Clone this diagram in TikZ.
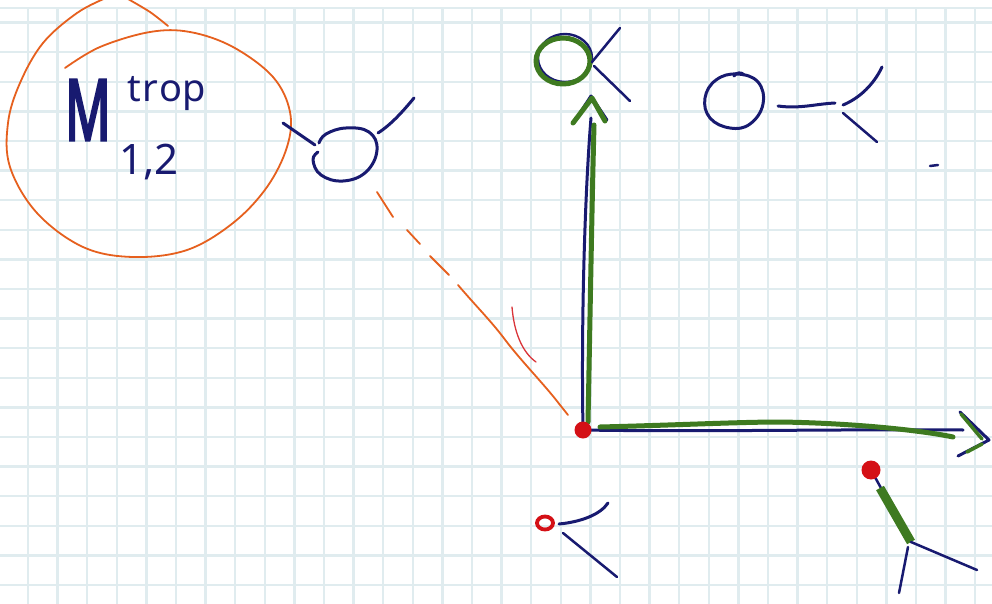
\documentclass[tikz,border=0pt]{standalone}
\usepackage{fontspec}
\setmainfont{Noto Sans}
\newfontfamily\heavyhand[FakeBold=4]{Noto Sans}
\usetikzlibrary{shapes.geometric}
\definecolor{ink}{RGB}{24,26,112}
\definecolor{leaf}{RGB}{62,122,32}
\definecolor{dotred}{RGB}{212,16,22}
\definecolor{penorange}{RGB}{230,96,30}
\definecolor{gridcol}{RGB}{224,236,239}
\tikzset{
  gridline/.style={draw=gridcol, line width=2.3pt},
  inkline/.style={draw=ink, line width=3pt, line cap=round, line join=round},
  leafline/.style={draw=leaf, line width=5pt, line cap=round, line join=round},
  orangeline/.style={draw=penorange, line width=1.8pt, line cap=round, line join=round},
  reddot/.style={circle, fill=dotred, inner sep=0pt, minimum size=17pt},
  handtext/.style={text=ink, inner sep=0pt}
}
\begin{document}
\begin{tikzpicture}[x=1pt,y=-1pt]
\useasboundingbox (0,0) rectangle (992,604);
\fill[white] (0,0) rectangle (992,604);
\begin{scope}
\clip (0,0) rectangle (992,604);
% grid paper
\foreach \i in {0,...,32} \draw[gridline] ({28+29.6*\i},8) -- ({28+29.6*\i},606);
\foreach \j in {0,...,19} \draw[gridline] (0,{22.6+29.6*\j}) -- (992,{22.6+29.6*\j});
\draw[gridline] (0,8) -- (992,8);

% orange loop around the label
\draw[orangeline] plot[smooth, tension=0.6] coordinates {(65,68) (100,47) (150,32) (190,32) (233,47) (273,77) (290,112) (287,147) (267,187) (233,223) (187,250) (133,257) (83,247) (37,213) (10,167) (8,123) (20,83) (43,43) (77,13) (106,-2)};
\draw[orangeline] plot[smooth] coordinates {(128,-1) (150,12) (168,26)};

% label
\node[handtext, font=\heavyhand\fontsize{84}{84}\selectfont] (M) at (88,110) {\scalebox{0.6}[1]{M}};
\node[handtext, font=\fontsize{38}{38}\selectfont] (trop) at (167,94) {t\kern1pt r\kern1pt o\kern1pt p};
\node[handtext, font=\fontsize{42}{42}\selectfont] (idx) at (149,162) {1,2};

% named points
\coordinate (O) at (583,430);
\coordinate (Ytop) at (591,118);
\coordinate (Xend) at (963,430);
\coordinate (A1) at (283,123);
\coordinate (A2) at (315,145);
\coordinate (B1) at (378,133);
\coordinate (B2) at (414,98);
\coordinate (D1) at (377,192);

% blue vertex near label
\draw[inkline] plot[smooth, tension=0.7] coordinates {(319,143) (326,134) (346,128) (369,132) (377,150) (366,172) (343,181) (321,175) (313,160) (318,152)};
\draw[inkline] (A1) -- (A2);
\draw[inkline] (B1) .. controls (392,124) and (404,110) .. (B2);

% orange dashed line to origin
\draw[orangeline] (D1) -- (393,217);
\draw[orangeline] (407,230) -- (420,244);
\draw[orangeline] (430,256) -- (449,275);
\draw[orangeline] (458,285) .. controls (475,305) and (490,320) .. (503,337) .. controls (520,360) and (545,385) .. (560,405) -- (568,415);
% thin red arc
\draw[draw=dotred!85, line width=1.3pt, line cap=round] (512,307) .. controls (514,332) and (522,352) .. (536,362);

% axes (navy then green)
\draw[inkline] (O) .. controls (581,320) and (585,190) .. (Ytop);
\draw[inkline] (574,122) -- (591,96) -- (607,120);
\draw[inkline] (O) .. controls (700,432) and (850,429) .. (Xend);
\draw[inkline] (960,412) -- (989,440) -- (958,456);
\draw[leafline] (588,422) .. controls (590,320) and (592,200) .. (594,125);
\draw[leafline] (573,123) -- (592,98) -- (605,121);
\draw[leafline] (600,427) .. controls (680,425) and (740,422) .. (780,422) .. controls (850,423) and (920,430) .. (953,437);
\draw[leafline, line width=3.5pt] (961,414) -- (982,439);
\draw[leafline, line width=3.5pt] (967,452) -- (982,444);
\node[reddot] (origin) at (O) {};

% green/blue vertex at top of vertical axis
\draw[inkline, line width=2.4pt] (565,58) ellipse (27pt and 24pt);
\draw[leafline] (563,61) ellipse (27pt and 23pt);
\coordinate (C1) at (592,62);
\coordinate (C2) at (620,28);
\coordinate (C3) at (594,66);
\coordinate (C4) at (630,101);
\draw[inkline, line width=2.5pt] (C1) -- (C2);
\draw[inkline, line width=2.5pt] (C3) -- (C4);

% top right vertex
\draw[inkline] plot[smooth cycle, tension=0.7] coordinates {(737,74) (758,82) (763,104) (750,124) (730,128) (710,118) (705,98) (716,80)};
\draw[inkline] (734,76) .. controls (736,72) and (742,72) .. (744,75);
\coordinate (E1) at (778,106);
\coordinate (E2) at (835,103);
\coordinate (E3) at (843,105);
\coordinate (E4) at (882,67);
\coordinate (E5) at (843,113);
\coordinate (E6) at (877,142);
\draw[inkline] (E1) .. controls (800,109) and (815,104) .. (E2);
\draw[inkline] (E3) .. controls (860,98) and (874,84) .. (E4);
\draw[inkline, line width=2.5pt] (E5) -- (E6);
\draw[inkline, line width=2.5pt] (930,166) -- (938,165);

% bottom left vertex
\draw[draw=dotred, line width=3.8pt] (545,523) ellipse (8pt and 6.5pt);
\coordinate (F1) at (559,524);
\coordinate (F2) at (608,503);
\coordinate (F3) at (563,533);
\coordinate (F4) at (617,577);
\draw[inkline] (F1) .. controls (580,522) and (600,515) .. (F2);
\draw[inkline, line width=2.5pt] (F3) -- (F4);

% bottom right vertex
\coordinate (G0) at (871,470);
\coordinate (G1) at (911,542);
\coordinate (G2) at (977,570);
\coordinate (G3) at (899,593);
\draw[inkline, line width=2.5pt] (G0) -- (G1);
\draw[leafline, line width=9pt, line cap=butt] (880,488) -- (G1);
\draw[inkline, line width=2.5pt] (G1) -- (G2);
\draw[inkline, line width=2.5pt] (908,547) -- (G3);
\node[reddot, minimum size=19pt] (g) at (G0) {};
\end{scope}
\end{tikzpicture}
\end{document}
